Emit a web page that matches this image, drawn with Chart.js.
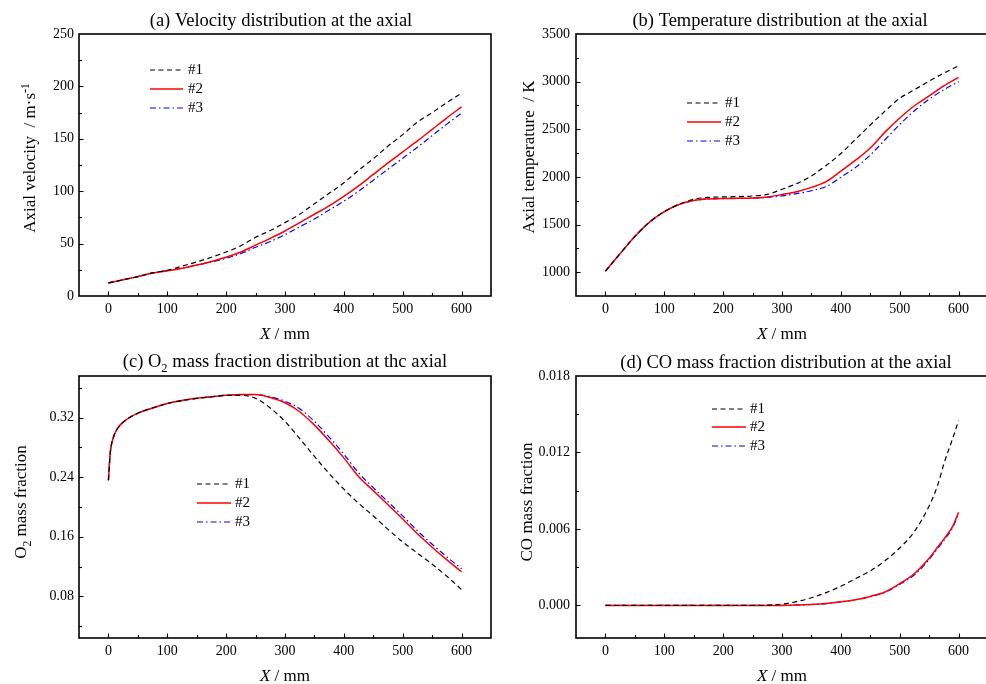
<!DOCTYPE html>
<html><head><meta charset="utf-8">
<script src="https://cdn.jsdelivr.net/npm/chart.js@4.4.0/dist/chart.umd.min.js"></script>
<style>
html,body{margin:0;padding:0;background:#fff;overflow:hidden;width:986px;height:684px;position:relative}
canvas{position:absolute}
</style></head><body>
<canvas id="ca" width="493" height="342" style="left:0;top:0;width:493px;height:342px"></canvas>
<canvas id="cb" width="497" height="342" style="left:493px;top:0;width:497px;height:342px"></canvas>
<canvas id="cc" width="493" height="342" style="left:0;top:342px;width:493px;height:342px"></canvas>
<canvas id="cd" width="497" height="342" style="left:493px;top:342px;width:497px;height:342px"></canvas>
<script>
// ---------- data ----------
const seriesNames = ['#1', '#2', '#3'];
const xTicks = [0, 100, 200, 300, 400, 500, 600];

// (a) axial velocity, m/s
const xA = [0,25,50,75,100,125,150,175,200,225,250,275,300,325,350,375,400,425,450,475,500,525,550,575,600];
const velocity1 = [12.5,15.5,18.5,22,24.5,28.5,32.5,37,42,48,56,62.5,70,78,88,98,108,120,131,143,154,166,175,184.5,193.5];
const velocity2 = [12.5,15.5,18.5,22,24,26.5,29.5,33,37,42,48.5,55,62,70,78,86,95,105,116,127,137.5,148,159,170,180.5];
const velocity3 = [12.5,15.5,18.5,22,24,26.5,29.5,32.5,36,40.5,46.5,52,58.5,66,73.5,82,90.5,100,110.5,121,131.5,142,153,164,174.5];
const yTicksA = [0, 50, 100, 150, 200, 250];

// (b) axial temperature, K
const xB = [0,25,50,75,100,125,150,175,200,225,250,275,300,325,350,375,400,425,450,475,500,525,550,575,600];
const temperature1 = [1010,1195,1375,1525,1635,1712,1765,1785,1790,1793,1800,1816,1870,1930,2010,2120,2245,2395,2545,2690,2825,2915,3005,3090,3165];
const temperature2 = [1010,1195,1375,1525,1635,1710,1752,1768,1773,1775,1778,1790,1815,1845,1890,1950,2060,2176,2304,2470,2618,2747,2850,2955,3045];
const temperature3 = [1010,1195,1375,1525,1635,1710,1752,1768,1773,1775,1777,1785,1800,1825,1855,1899,1997,2100,2230,2390,2550,2695,2815,2915,3000];
const yTicksB = [1000, 1500, 2000, 2500, 3000, 3500];

// (c) O2 mass fraction
const xC = [0,3,6,10,15,25,50,75,100,125,150,175,200,225,250,275,300,325,350,375,400,425,450,475,500,525,550,575,600];
const o2Fraction1 = [0.236,0.272,0.287,0.297,0.305,0.314,0.326,0.333,0.339,0.343,0.346,0.348,0.350,0.350,0.346,0.333,0.315,0.292,0.268,0.245,0.224,0.205,0.188,0.170,0.153,0.138,0.123,0.107,0.089];
const o2Fraction2 = [0.236,0.272,0.287,0.297,0.305,0.314,0.326,0.333,0.339,0.343,0.346,0.348,0.350,0.351,0.351,0.347,0.340,0.328,0.310,0.289,0.266,0.241,0.222,0.203,0.184,0.164,0.146,0.129,0.113];
const o2Fraction3 = [0.236,0.272,0.287,0.297,0.305,0.314,0.326,0.333,0.339,0.343,0.346,0.348,0.350,0.351,0.351,0.348,0.342,0.332,0.315,0.294,0.271,0.246,0.226,0.207,0.188,0.168,0.150,0.133,0.117];
const yTicksC = [0.08, 0.16, 0.24, 0.32];

// (d) CO mass fraction
const xD = [0,50,100,150,200,250,300,325,350,375,400,425,450,475,500,525,550,565,575,590,600];
const coFraction1 = [0,0,0,0,0,0,0.0001,0.0003,0.0006,0.001,0.0015,0.0021,0.0027,0.0035,0.0045,0.0058,0.0078,0.0095,0.0111,0.0131,0.0145];
const coFraction2 = [0,0,0,0,0,0,0,0.00002,0.00007,0.00015,0.00028,0.00045,0.0007,0.00105,0.0017,0.0025,0.0037,0.0046,0.0052,0.0062,0.0073];
const coFraction3 = [0,0,0,0,0,0,0,0.00002,0.00007,0.00014,0.00027,0.00044,0.00068,0.00102,0.00165,0.0024,0.0036,0.0045,0.0051,0.0061,0.0072];
const yTicksD = [0, 0.006, 0.012, 0.018];

// ---------- styling ----------
const FONT = "'Liberation Serif', 'Times New Roman', serif";
const lineStyles = [
  { color: '#000000', width: 1.2, dash: [5, 3.5] },
  { color: '#ff0000', width: 1.5, dash: [] },
  { color: '#0000ff', width: 1.2, dash: [6, 3, 1.5, 3] }
];

function drawRich(ctx, segs, x, y, size) {
  const parts = segs.map(s => {
    const sz = (s.sub || s.sup) ? size * 0.68 : size;
    const font = (s.italic ? 'italic ' : '') + sz + 'px ' + FONT;
    ctx.font = font;
    return { t: s.t, font, w: ctx.measureText(s.t).width, dy: s.sub ? size * 0.28 : (s.sup ? -size * 0.38 : 0) };
  });
  const total = parts.reduce((a, p) => a + p.w, 0);
  let cx = x - total / 2;
  ctx.textAlign = 'left';
  ctx.textBaseline = 'alphabetic';
  ctx.fillStyle = '#000';
  for (const p of parts) {
    ctx.font = p.font;
    ctx.fillText(p.t, cx, y + p.dy);
    cx += p.w;
  }
}

const framePlugin = {
  id: 'frame',
  afterDatasetsDraw(chart) {
    const o = chart.options.plugins.frame;
    const ctx = chart.ctx;
    const ca = chart.chartArea;
    const xs = chart.scales.x, ys = chart.scales.y;
    ctx.save();
    ctx.strokeStyle = '#000';
    ctx.lineWidth = 1.6;
    ctx.setLineDash([]);
    ctx.strokeRect(ca.left, ca.top, ca.right - ca.left, ca.bottom - ca.top);
    ctx.lineWidth = 1.1;
    // x ticks (inward)
    for (let v = xs.min; v <= xs.max + 1e-9; v += o.xMinor) {
      const major = xTicks.some(t => Math.abs(t - v) < 1e-9);
      const px = Math.round(xs.getPixelForValue(v)) + 0.5;
      if (px <= ca.left + 1 || px >= ca.right - 1) continue;
      ctx.beginPath();
      ctx.moveTo(px, ca.bottom);
      ctx.lineTo(px, ca.bottom - (major ? 4.5 : 3));
      ctx.stroke();
    }
    // y ticks (inward)
    const start = Math.ceil((ys.min - 1e-12) / o.yMinor) * o.yMinor;
    for (let v = start; v <= ys.max + 1e-12; v += o.yMinor) {
      const major = o.yMajor.some(t => Math.abs(t - v) < o.yMinor * 1e-3);
      const py = Math.round(ys.getPixelForValue(v)) + 0.5;
      if (py <= ca.top + 1 || py >= ca.bottom - 1) continue;
      ctx.beginPath();
      ctx.moveTo(ca.left, py);
      ctx.lineTo(ca.left + (major ? 4.5 : 3), py);
      ctx.stroke();
    }
    // legend
    const L = o.legend;
    chart.data.datasets.forEach((ds, i) => {
      const y = L.ys[i];
      ctx.strokeStyle = ds.borderColor;
      ctx.lineWidth = ds.borderWidth;
      ctx.setLineDash(ds.borderDash || []);
      ctx.beginPath();
      ctx.moveTo(L.x1, y);
      ctx.lineTo(L.x2, y);
      ctx.stroke();
      ctx.setLineDash([]);
      ctx.fillStyle = '#000';
      ctx.font = '15px ' + FONT;
      ctx.textAlign = 'left';
      ctx.textBaseline = 'middle';
      ctx.fillText(ds.label, L.tx, y + 0.5);
    });
    // titles
    drawRich(ctx, o.title, o.titleX, o.titleY, 18.5);
    drawRich(ctx, [{ t: 'X', italic: true }, { t: ' / mm' }], (ca.left + ca.right) / 2 - (o.xShift || 0), 339, 17);
    ctx.save();
    ctx.translate(o.yTitleX, o.yTitleY);
    ctx.rotate(-Math.PI / 2);
    drawRich(ctx, o.yTitle, 0, 6, 17);
    ctx.restore();
    ctx.restore();
  }
};

function makeChart(id, xsArr, seriesArr, yMin, yMax, yTicks, yLabelFmt, axisW, yPad, frameOpts) {
  const datasets = seriesArr.map((arr, i) => ({
    label: seriesNames[i],
    data: xsArr.map((x, j) => ({ x: x, y: arr[j] })),
    borderColor: lineStyles[i].color,
    borderWidth: lineStyles[i].width,
    borderDash: lineStyles[i].dash,
    pointRadius: 0,
    fill: false,
    cubicInterpolationMode: 'monotone'
  }));
  return new Chart(document.getElementById(id), {
    type: 'line',
    data: { datasets },
    plugins: [framePlugin],
    options: {
      responsive: false,
      animation: false,
      devicePixelRatio: 1,
      layout: { padding: { left: 0, right: 2, top: 34, bottom: 0 } },
      plugins: { legend: { display: false }, title: { display: false }, tooltip: { enabled: false }, frame: frameOpts },
      scales: {
        x: {
          type: 'linear', min: -50, max: 650,
          afterBuildTicks: s => { s.ticks = xTicks.map(v => ({ value: v })); },
          afterFit: s => { s.height = 46; },
          grid: { display: false, drawTicks: false, tickLength: 0 }, border: { display: false },
          ticks: { color: '#000', font: { family: FONT, size: 14 }, padding: 5, maxRotation: 0, autoSkip: false }
        },
        y: {
          type: 'linear', min: yMin, max: yMax,
          afterBuildTicks: s => { s.ticks = yTicks.map(v => ({ value: v })); },
          afterFit: s => { s.width = axisW; },
          grid: { display: false, drawTicks: false, tickLength: 0 }, border: { display: false },
          ticks: { color: '#000', font: { family: FONT, size: 14 }, padding: yPad, autoSkip: false, callback: v => yLabelFmt(v) }
        }
      }
    }
  });
}

makeChart('ca', xA, [velocity1, velocity2, velocity3], 0, 250, yTicksA, v => String(v), 79, 5, {
  title: [{ t: '(a) Velocity distribution at the axial' }], titleX: 281, titleY: 26,
  yTitle: [{ t: 'Axial velocity  / m·s' }, { t: '-1', sup: true }], yTitleX: 29, yTitleY: 158,
  legend: { x1: 150, x2: 183, tx: 188, ys: [70, 89, 108] },
  xMinor: 50, yMinor: 25, yMajor: yTicksA
});
makeChart('cb', xB, [temperature1, temperature2, temperature3], 750, 3500, yTicksB, v => String(v), 83, 6, {
  title: [{ t: '(b) Temperature distribution at the axial' }], titleX: 287, titleY: 26,
  yTitle: [{ t: 'Axial temperature  / K' }], yTitleX: 35, yTitleY: 157,
  legend: { x1: 194, x2: 228, tx: 232, ys: [103, 122, 141] },
  xMinor: 50, yMinor: 250, yMajor: yTicksB
});
makeChart('cc', xC, [o2Fraction1, o2Fraction2, o2Fraction3], 0.024, 0.376, yTicksC, v => v.toFixed(2), 79, 5, {
  title: [{ t: '(c) O' }, { t: '2', sub: true }, { t: ' mass fraction distribution at thc axial' }], titleX: 285, titleY: 25,
  yTitle: [{ t: 'O' }, { t: '2', sub: true }, { t: ' mass fraction' }], yTitleX: 20, yTitleY: 160,
  legend: { x1: 197, x2: 231, tx: 235, ys: [142, 161, 180] },
  xMinor: 50, yMinor: 0.04, yMajor: yTicksC
});
makeChart('cd', xD, [coFraction1, coFraction2, coFraction3], -0.00256, 0.018, yTicksD, v => v.toFixed(3), 83, 6, {
  title: [{ t: '(d) CO mass fraction distribution at the axial' }], titleX: 293, titleY: 26,
  yTitle: [{ t: 'CO mass fraction' }], yTitleX: 33, yTitleY: 160,
  legend: { x1: 219, x2: 253, tx: 257, ys: [67, 85, 104] },
  xMinor: 50, yMinor: 0.003, yMajor: yTicksD
});
</script>
</body></html>
